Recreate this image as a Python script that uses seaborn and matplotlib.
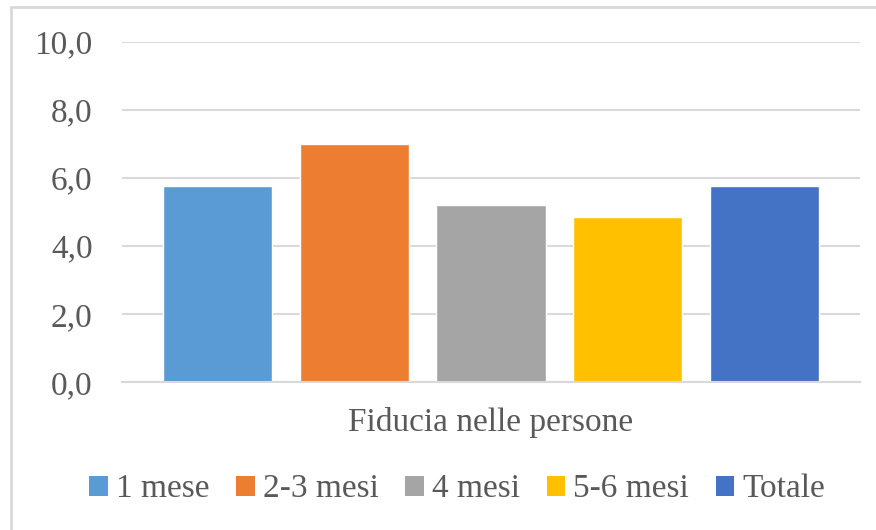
import numpy as np
import pandas as pd
import seaborn as sns
from matplotlib import pyplot as plt
from matplotlib.patches import Patch, Rectangle

categories = ['1 mese', '2-3 mesi', '4 mesi', '5-6 mesi', 'Totale']
values = [5.76, 7.0, 5.2, 4.84, 5.76]
colors = ['#5B9BD5', '#ED7D31', '#A5A5A5', '#FFC000', '#4472C4']
group_label = 'Fiducia nelle persone'
y_ticks = [0, 2, 4, 6, 8, 10]

sns.set_style('white')
plt.rcParams['font.family'] = ['Liberation Serif', 'DejaVu Serif']
text_color = '#595959'

df = pd.DataFrame({'periodo': categories, 'valore': values})

fig = plt.figure(figsize=(8.76, 5.30), dpi=100)
ax = fig.add_axes([0.139, 0.279, 0.843, 0.642])

sns.barplot(data=df, x='periodo', y='valore', hue='periodo', palette=colors,
            order=categories, hue_order=categories, width=0.8, legend=False,
            saturation=1, ax=ax)

ax.set_xlim(-0.70, 4.70)
ax.set_ylim(0, 10)
ax.set_yticks(y_ticks)
ax.set_yticklabels([f'{t:.1f}'.replace('.', ',') for t in y_ticks], fontsize=24, color=text_color)
ax.set_xticks([2])
ax.set_xticklabels([group_label], fontsize=24, color=text_color)
ax.tick_params(axis='y', length=0, pad=21)
ax.tick_params(axis='x', length=0, pad=18)
ax.set_xlabel('')
ax.set_ylabel('')

ax.yaxis.grid(True, color='#D9D9D9', linewidth=1.5)
ax.set_axisbelow(True)
for side in ['top', 'right', 'left']:
    ax.spines[side].set_visible(False)
ax.spines['bottom'].set_color('#D9D9D9')
ax.spines['bottom'].set_linewidth(1.5)

handles = [Patch(facecolor=c, edgecolor='none', label=l) for c, l in zip(colors, categories)]
fig.legend(handles=handles, loc='center', bbox_to_anchor=(0.522, 0.077), ncol=5,
           frameon=False, fontsize=24, handlelength=0.55, handleheight=0.55,
           handletextpad=0.25, columnspacing=0.8, labelcolor=text_color)

# thin frame around the chart (right and bottom edges fall outside the image)
fig.patches.append(Rectangle((0.012, -0.05), 1.1, 1.037, transform=fig.transFigure,
                             fill=False, edgecolor='#D9D9D9', linewidth=2))

fig.savefig('out.png', dpi=100)
